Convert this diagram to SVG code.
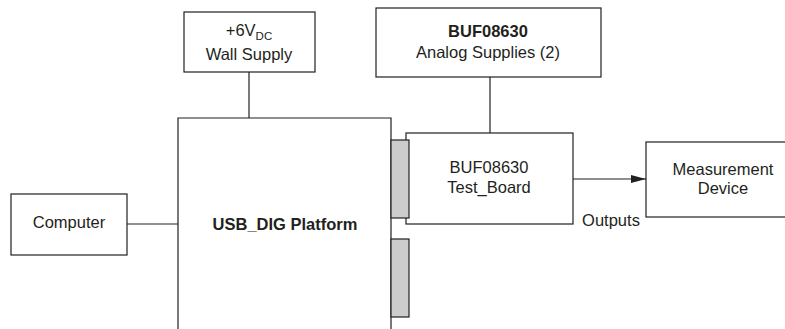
<svg xmlns="http://www.w3.org/2000/svg" width="785" height="329" viewBox="0 0 785 329">
<style>
.box{fill:#fff;stroke:#231f20;stroke-width:1.2}
.conn{fill:#cccccc;stroke:#231f20;stroke-width:1.2}
.line{stroke:#231f20;stroke-width:1.2;fill:none}
text{font-family:"Liberation Sans",Arial,sans-serif;font-size:16.5px;fill:#231f20;text-anchor:middle}
.b{font-weight:bold}
</style>
<defs>
<marker id="arr" markerWidth="16" markerHeight="10" refX="15" refY="4" orient="auto" markerUnits="userSpaceOnUse">
<path d="M0,0 L15,4 L0,8 Z" fill="#231f20"/>
</marker>
</defs>
<rect width="785" height="329" fill="#fff"/>
<g id="connectors">
<line class="line" x1="249" y1="72" x2="249" y2="118"/>
<line class="line" x1="490" y1="77" x2="490" y2="133"/>
<line class="line" x1="127" y1="224" x2="178" y2="224"/>
<line class="line" x1="573" y1="179" x2="646" y2="179" marker-end="url(#arr)"/>
</g>
<g id="wall">
<rect class="box" x="184" y="12" width="131" height="60"/>
<text x="249" y="36">+6V<tspan font-size="11.5" dy="4">DC</tspan></text>
<text x="249" y="60">Wall Supply</text>
</g>
<g id="analog">
<rect class="box" x="376" y="8" width="225" height="69"/>
<text x="488" y="37" class="b">BUF08630</text>
<text x="488" y="58">Analog Supplies (2)</text>
</g>
<g id="platform">
<path class="line" d="M178,329 L178,118 L391,118 L391,329"/>
<text x="285" y="230" class="b">USB_DIG Platform</text>
</g>
<g id="testboard">
<rect class="box" x="406" y="133" width="167" height="91"/>
<text x="489" y="173">BUF08630</text>
<text x="489" y="193">Test_Board</text>
</g>
<g id="conn1"><rect class="conn" x="391" y="140" width="18" height="78"/></g>
<g id="conn2"><rect class="conn" x="391" y="239" width="18" height="78"/></g>
<g id="computer">
<rect class="box" x="11" y="194" width="116" height="61"/>
<text x="69" y="228">Computer</text>
</g>
<g id="measurement">
<rect class="box" x="646" y="142" width="154" height="75"/>
<text x="723" y="175">Measurement</text>
<text x="723" y="194">Device</text>
</g>
<g id="outputs-label">
<text x="611" y="226">Outputs</text>
</g>
</svg>
